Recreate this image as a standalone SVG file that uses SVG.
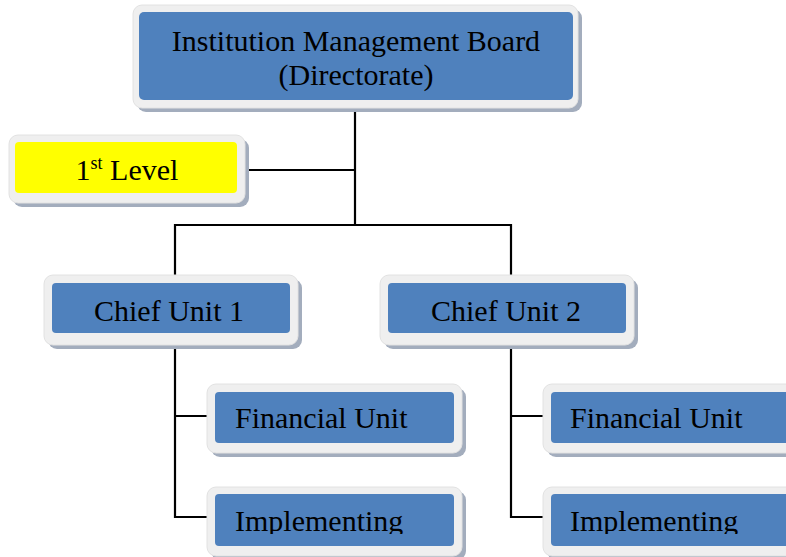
<svg xmlns="http://www.w3.org/2000/svg" width="786" height="557" viewBox="0 0 786 557">
<style>
.sh{fill:#a3adbd}
.fr{fill:#efefef;stroke:#e2e2e2;stroke-width:1}
.bl{fill:#4f81bd}
.ye{fill:#ffff00}
.t{font-family:"Liberation Serif","Times New Roman",serif;font-size:30px;fill:#000}
.c{stroke:#000;stroke-width:2.2;fill:none}
</style>
<defs>
<clipPath id="clipImpl"><rect x="0" y="0" width="786" height="534"/></clipPath>
</defs>
<rect width="786" height="557" fill="#ffffff"/>
<g id="connectors">
<path class="c" d="M355,108 V225 M245,170 H355 M175,276 V225 H511 V276"/>
<path class="c" d="M175,345 V517 H207 M175,416 H207"/>
<path class="c" d="M511,345 V517 H543 M511,416 H543"/>
</g>
<g id="board">
<rect class="sh" x="137" y="9" width="445" height="103" rx="9"/>
<rect class="fr" x="133" y="5" width="445" height="103" rx="9"/>
<rect class="bl" x="139" y="12" width="434" height="88" rx="5"/>
<text class="t" x="356" y="51" text-anchor="middle">Institution Management Board</text>
<text class="t" x="356" y="85" text-anchor="middle">(Directorate)</text>
</g>
<g id="level1">
<rect class="sh" x="13" y="139" width="236" height="68" rx="9"/>
<rect class="fr" x="9" y="135" width="236" height="68" rx="9"/>
<rect class="ye" x="15" y="142" width="222" height="51" rx="4"/>
<text class="t" x="127" y="180" text-anchor="middle">1<tspan font-size="18" dy="-11">st</tspan><tspan dy="11"> Level</tspan></text>
</g>
<g id="chief1">
<rect class="sh" x="48" y="279" width="254" height="70" rx="9"/>
<rect class="fr" x="44" y="275" width="254" height="70" rx="9"/>
<rect class="bl" x="52" y="283" width="238" height="50" rx="4"/>
<text class="t" x="169" y="321" text-anchor="middle">Chief Unit 1</text>
</g>
<g id="chief2">
<rect class="sh" x="384" y="279" width="254" height="70" rx="9"/>
<rect class="fr" x="380" y="275" width="254" height="70" rx="9"/>
<rect class="bl" x="388" y="283" width="238" height="50" rx="4"/>
<text class="t" x="506" y="321" text-anchor="middle">Chief Unit 2</text>
</g>
<g id="fin1">
<rect class="sh" x="211" y="388" width="255" height="69" rx="9"/>
<rect class="fr" x="207" y="384" width="255" height="69" rx="9"/>
<rect class="bl" x="215" y="392" width="239" height="51" rx="4"/>
<text class="t" x="235" y="428">Financial Unit</text>
</g>
<g id="impl1">
<rect class="sh" x="211" y="491" width="255" height="69" rx="9"/>
<rect class="fr" x="207" y="487" width="255" height="69" rx="9"/>
<rect class="bl" x="215" y="494" width="239" height="52" rx="4"/>
<text class="t" x="235" y="531" clip-path="url(#clipImpl)">Implementing</text>
</g>
<g id="fin2">
<rect class="sh" x="547" y="388" width="255" height="69" rx="9"/>
<rect class="fr" x="543" y="384" width="255" height="69" rx="9"/>
<rect class="bl" x="551" y="392" width="239" height="51" rx="4"/>
<text class="t" x="570" y="428">Financial Unit</text>
</g>
<g id="impl2">
<rect class="sh" x="547" y="491" width="255" height="69" rx="9"/>
<rect class="fr" x="543" y="487" width="255" height="69" rx="9"/>
<rect class="bl" x="551" y="494" width="239" height="52" rx="4"/>
<text class="t" x="570" y="531" clip-path="url(#clipImpl)">Implementing</text>
</g>
</svg>
